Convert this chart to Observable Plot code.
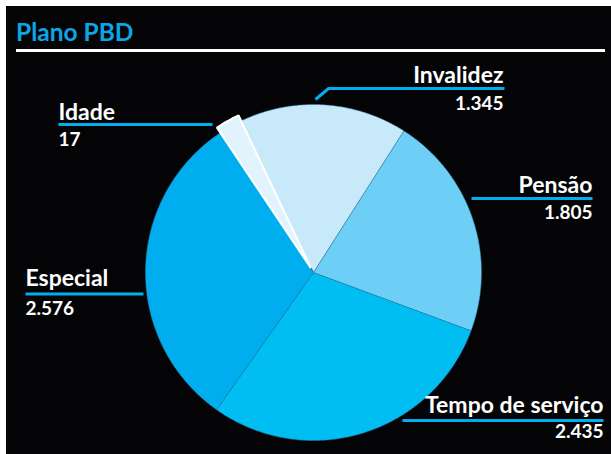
<!DOCTYPE html>
<html><head><meta charset="utf-8">
<script src="https://cdn.jsdelivr.net/npm/d3@7"></script>
<script src="https://cdn.jsdelivr.net/npm/@observablehq/plot@0.6"></script>
<style>
html,body{margin:0;padding:0;background:#fff;width:611px;height:454px;overflow:hidden}
#box{position:absolute;left:6px;top:6px;width:605px;height:448px;background:#040406}
#title{position:absolute;left:10px;top:13px;font:700 24.5px Lato,sans-serif;line-height:25px;color:#0aa6e6;margin:0}
#rule{position:absolute;left:10px;top:43px;width:589px;height:2.5px;background:#fff}
#chart{position:absolute;left:0;top:52px}
</style></head>
<body>
<div id="box">
  <h2 id="title">Plano PBD</h2>
  <div id="rule"></div>
  <div id="chart"></div>
</div>
<script>
// ---- data ----
const categories = ["Invalidez", "Pensão", "Tempo de serviço", "Especial", "Idade"];
const values = [1345, 1805, 2435, 2576, 17];
const colors = ["#c7e9f9", "#6dcff6", "#00bdf2", "#00aeef", "#e1f3fd"];

// ---- layout ----
const W = 605, H = 396;
const cx = 307, cy = 214, R = 168;
const startDeg = -25.4;          // where Invalidez begins (clockwise from top)
const minSliceDeg = 8.4;         // tiny slices are drawn at this minimum angle
const explodeIdx = 4, explodePx = 5;
const FS = 23, FSV = 19;
const labelLayout = [
  {anchor: "end",   x: 497, yName: 24,  yVal: 51,  line: [[309, 41], [322, 30], [498, 30]]},
  {anchor: "end",   x: 586, yName: 134, yVal: 160, line: [[465, 140], [586, 140]]},
  {anchor: "end",   x: 597, yName: 354, yVal: 379, line: [[396, 362], [597, 362]]},
  {anchor: "start", x: 19,  yName: 227, yVal: 256, line: [[19, 235.5], [137, 235.5]]},
  {anchor: "start", x: 52,  yName: 61,  yVal: 87,  line: [[52, 66], [206, 66]]}
];

const fmt = d3.formatLocale({decimal: ",", thousands: ".", grouping: [3], currency: ["", ""]}).format(",d");

const rows = categories.map((name, i) => ({name, value: values[i], color: colors[i], i}));
const total = d3.sum(values);
const minFrac = minSliceDeg / 360;
const small = rows.filter(d => d.value / total < minFrac);
const bigTotal = d3.sum(rows.filter(d => d.value / total >= minFrac), d => d.value);
const smallWeight = bigTotal * minFrac / (1 - minFrac * small.length);
const arcs = d3.pie().sort(null)
  .value(d => (d.value / total < minFrac ? smallWeight : d.value))
  .startAngle(startDeg * Math.PI / 180)
  .endAngle(startDeg * Math.PI / 180 + 2 * Math.PI)(rows);

function slicePolygon(a) {
  const d = a.data;
  const mid = (a.startAngle + a.endAngle) / 2;
  const off = d.i === explodeIdx ? explodePx : 0;
  const ox = cx + off * Math.sin(mid), oy = cy - off * Math.cos(mid);
  const r = d.i === explodeIdx ? R + 1 : R;
  const n = Math.max(2, Math.ceil((a.endAngle - a.startAngle) / (Math.PI / 360)));
  const ring = [[ox, oy]];
  for (let k = 0; k <= n; k++) {
    const t = a.startAngle + (a.endAngle - a.startAngle) * k / n;
    ring.push([ox + r * Math.sin(t), oy - r * Math.cos(t)]);
  }
  ring.push([ox, oy]);
  return {type: "Feature", properties: d, geometry: {type: "Polygon", coordinates: [ring]}};
}
const slices = arcs.map(slicePolygon);
const mainSlices = slices.filter(f => f.properties.i !== explodeIdx);
const explodedSlices = slices.filter(f => f.properties.i === explodeIdx);

const names = rows.map(d => ({...labelLayout[d.i], text: d.name}));
const nums = rows.map(d => ({...labelLayout[d.i], text: fmt(d.value)}));
const leaders = rows.flatMap(d => labelLayout[d.i].line.map(([x, y]) => ({x, y, k: d.i})));

const textMarks = [];
for (const anchor of ["start", "end"]) {
  textMarks.push(
    Plot.text(names.filter(d => d.anchor === anchor), {x: "x", y: "yName", text: "text", textAnchor: anchor,
      fill: "#fff", fontSize: FS, fontWeight: 700, fontFamily: "Lato, sans-serif", dy: -0.32 * FS}),
    Plot.text(nums.filter(d => d.anchor === anchor), {x: "x", y: "yVal", text: "text", textAnchor: anchor,
      fill: "#fff", fontSize: FSV, fontWeight: 700, fontFamily: "Lato, sans-serif", dy: -0.32 * FSV})
  );
}

const chart = Plot.plot({
  width: W, height: H,
  margin: 0,
  style: {background: "transparent", overflow: "visible"},
  projection: {type: "identity", domain: {type: "MultiPoint", coordinates: [[0, 0], [W, H]]}},
  marks: [
    Plot.geo(mainSlices, {fill: d => d.properties.color, stroke: "#2a78a0", strokeWidth: 0.5}),
    Plot.geo(explodedSlices, {fill: d => d.properties.color, stroke: "#fff", strokeWidth: 2.2, strokeLinejoin: "miter"}),
    Plot.line(leaders, {x: "x", y: "y", z: "k", stroke: "#00aeef", strokeWidth: 3, curve: "linear", strokeLinecap: "butt"}),
    ...textMarks
  ]
});
document.getElementById("chart").append(chart);
</script>
</body></html>
